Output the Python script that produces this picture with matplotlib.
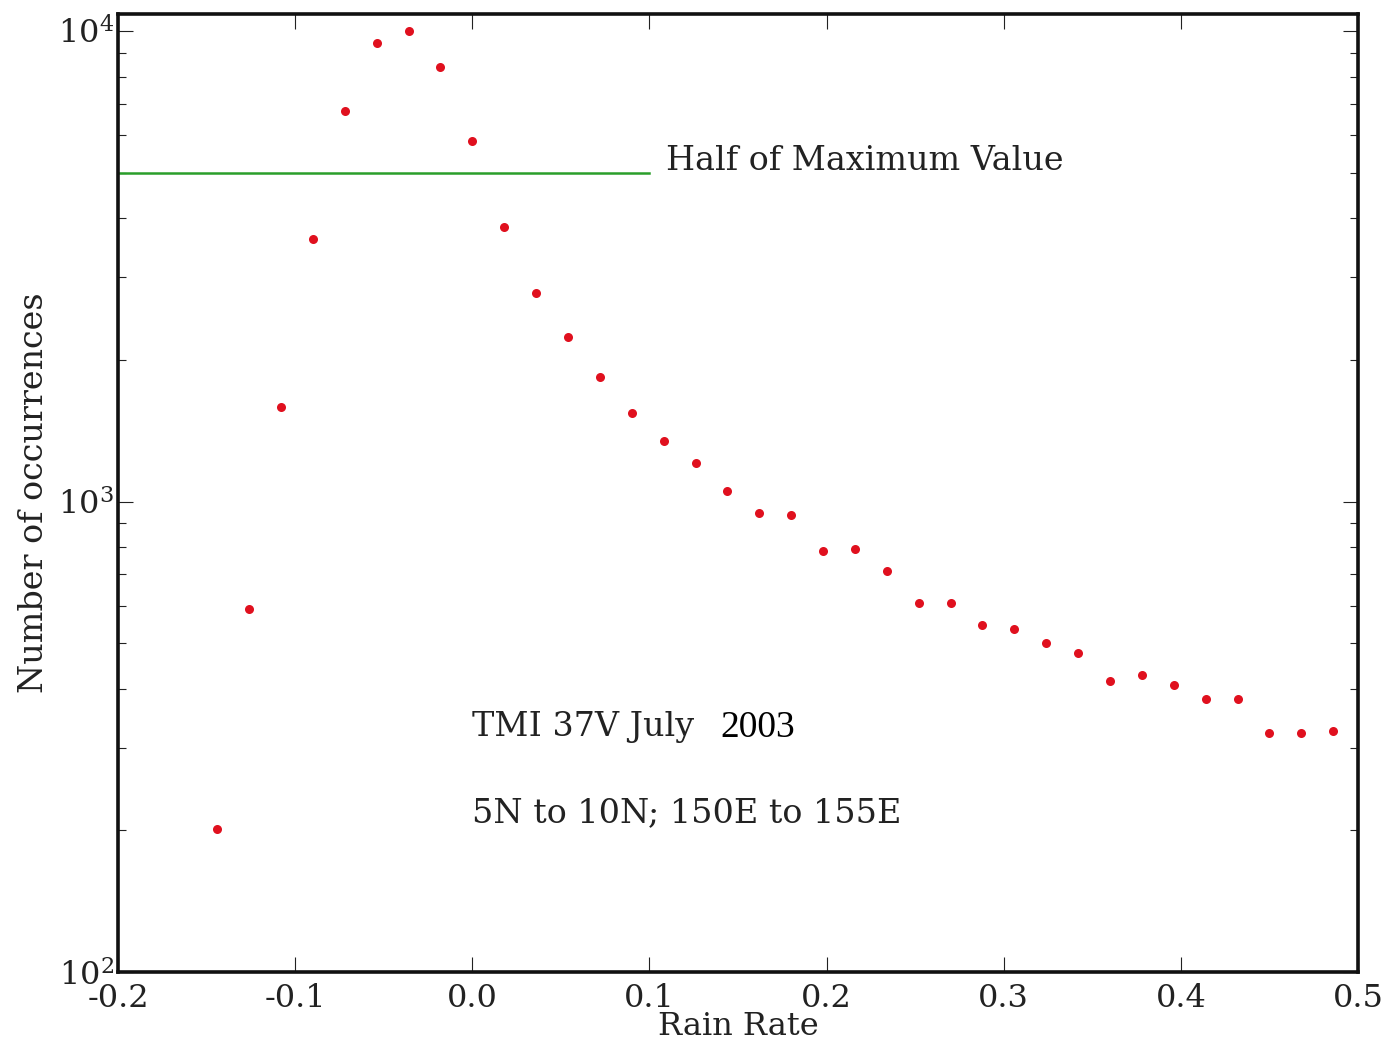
import matplotlib
matplotlib.use("Agg")
import matplotlib.pyplot as plt
from matplotlib.ticker import FixedLocator, FormatStrFormatter

plt.rcParams['font.family'] = ['DejaVu Serif']
plt.rcParams['mathtext.fontset'] = 'dejavuserif'
plt.rcParams['axes.unicode_minus'] = False

rain_rate = [-0.144, -0.126, -0.108, -0.090, -0.072, -0.054, -0.036, -0.018,
             0.000, 0.018, 0.036, 0.054, 0.072, 0.090, 0.108, 0.126,
             0.144, 0.162, 0.180, 0.198, 0.216, 0.234, 0.252, 0.270,
             0.288, 0.306, 0.324, 0.342, 0.360, 0.378, 0.396, 0.414,
             0.432, 0.450, 0.468, 0.486]
occurrences = [201, 591, 1588, 3612, 6761, 9430, 10000, 8386,
               5835, 3832, 2774, 2237, 1839, 1542, 1344, 1207,
               1053, 945, 936, 785, 793, 712, 609, 609,
               546, 536, 500, 476, 415, 428, 407, 380,
               380, 322, 322, 325]
half_max_x = [-0.2, 0.1]
half_max_value = 5000
x_ticks = [-0.2, -0.1, 0.0, 0.1, 0.2, 0.3, 0.4, 0.5]

fig = plt.figure(figsize=(13.92, 10.52), dpi=100)
ax = fig.add_axes([0.0848, 0.076, 0.8908, 0.9107])

ax.semilogy(rain_rate, occurrences, 'o', color='#e0101e', markersize=6.5,
            markeredgewidth=0)
ax.plot(half_max_x, [half_max_value, half_max_value], color='#2a9e2a', linewidth=1.8)

ax.set_xlim(-0.2, 0.5)
ax.set_ylim(100, 10870)
ax.xaxis.set_major_locator(FixedLocator(x_ticks))
ax.xaxis.set_major_formatter(FormatStrFormatter('%.1f'))

ax.tick_params(which='both', direction='in', top=True, right=True, width=0.8,
               labelsize=23, colors='#222222')
ax.tick_params(which='major', length=11, pad=8)
ax.tick_params(which='minor', length=6)
ax.tick_params(axis='y', which='major', pad=3)
for s in ax.spines.values():
    s.set_linewidth(2.6)
    s.set_color('#111111')

ax.set_xlabel('Rain Rate', fontsize=23, labelpad=-2, color='#222222')
ax.set_ylabel('Number of occurrences', fontsize=24, labelpad=6, color='#222222')

ax.text(0.1094, 5300, 'Half of Maximum Value', fontsize=24, va='center',
        color='#222222')
ax.text(0.0, 332, 'TMI 37V July', fontsize=24, va='center', color='#222222')
ax.text(0.140, 330, '2003', fontsize=27, va='center', family='Liberation Serif',
        color='black')
ax.text(0.0, 218, '5N to 10N; 150E to 155E', fontsize=24, va='center',
        color='#222222')

fig.savefig('out.png', dpi=100)
